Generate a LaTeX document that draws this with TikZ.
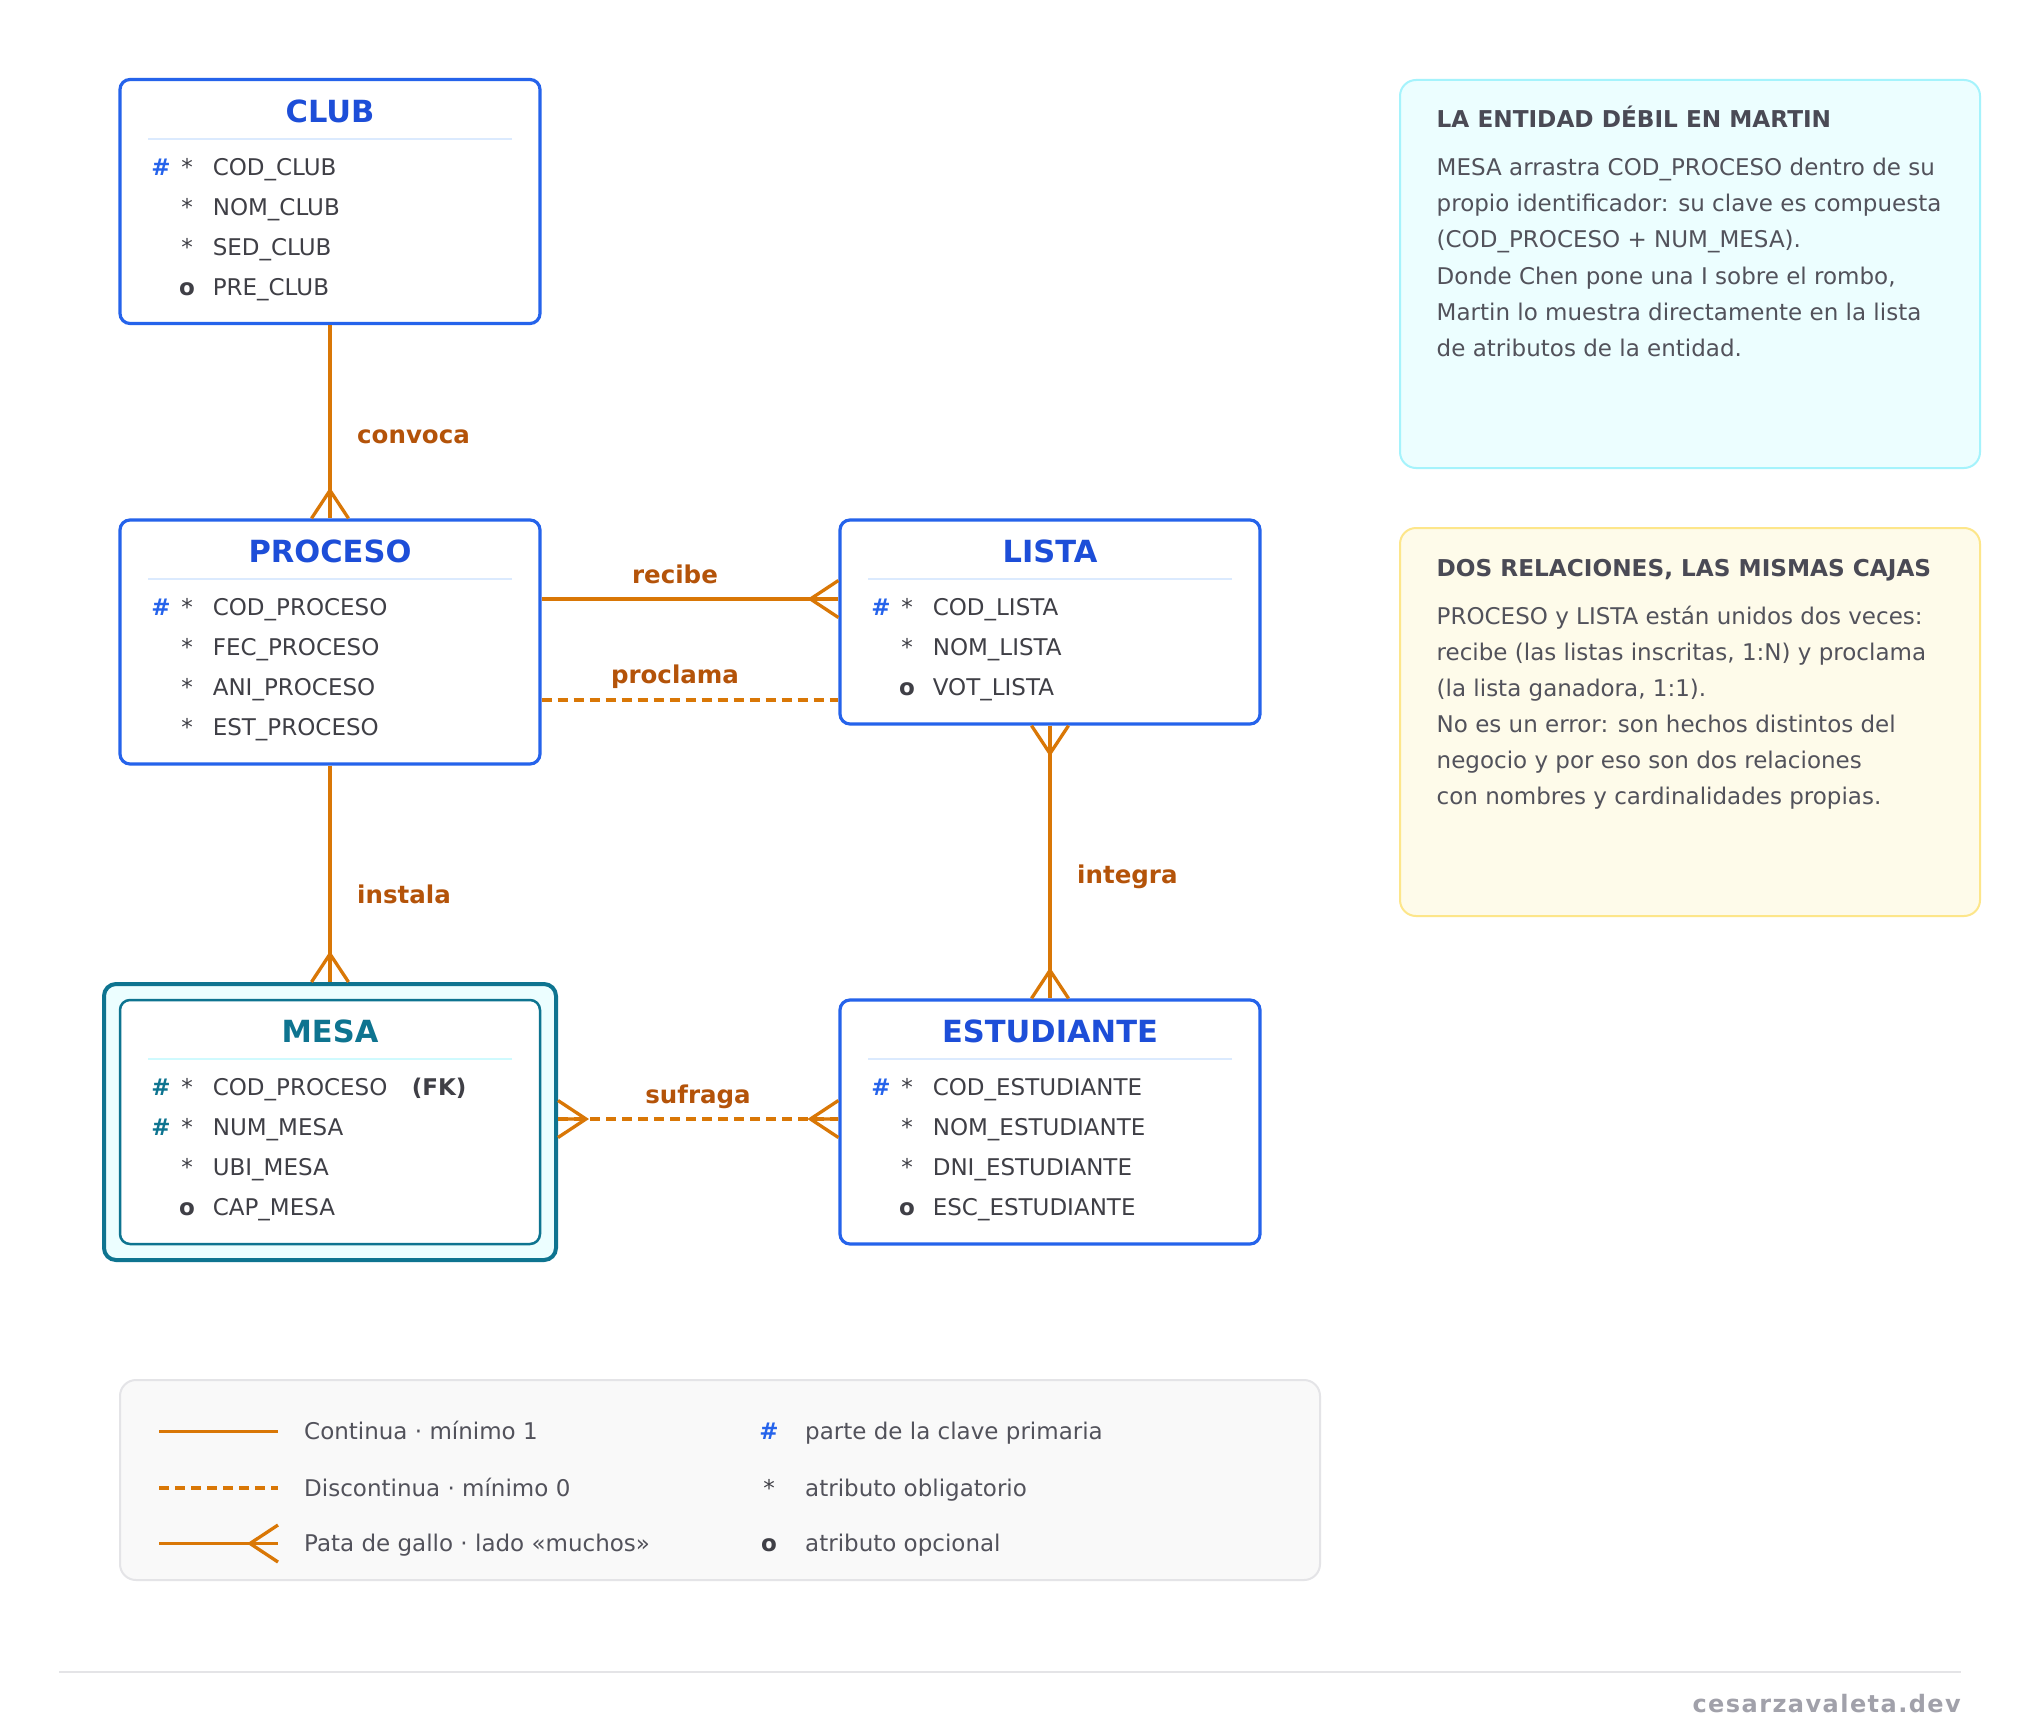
\documentclass[tikz,border=0pt]{standalone}
\usepackage{fontspec}
\setmainfont{DejaVu Sans}
\newfontfamily\piefont[LetterSpace=6]{DejaVu Sans}
\usetikzlibrary{positioning}

\definecolor{azul}{HTML}{2563EB}
\definecolor{azultit}{HTML}{1D4ED8}
\definecolor{azulsep}{HTML}{DBEAFE}
\definecolor{petroleo}{HTML}{0E7490}
\definecolor{petrofondo}{HTML}{ECFEFF}
\definecolor{petrosep}{HTML}{CFFAFE}
\definecolor{naranja}{HTML}{D97706}
\definecolor{naranjaosc}{HTML}{B45309}
\definecolor{gristxt}{HTML}{3F3F46}
\definecolor{grisnota}{HTML}{52525B}
\definecolor{gristit}{HTML}{4A4A55}
\definecolor{cianfondo}{HTML}{ECFEFF}
\definecolor{cianborde}{HTML}{A5F3FC}
\definecolor{amafondo}{HTML}{FEFBEA}
\definecolor{amaborde}{HTML}{FDE68A}
\definecolor{leyfondo}{HTML}{F9F9F9}
\definecolor{leyborde}{HTML}{E4E4E7}
\definecolor{pietxt}{HTML}{A1A1AA}

\newcommand{\fatr}{\fontsize{23}{27}\selectfont}
\newcommand{\ftit}{\fontsize{30.5}{36}\selectfont\bfseries}
\newcommand{\fnota}{\fontsize{23}{27}\selectfont}
\newcommand{\fet}{\fontsize{24.5}{28}\selectfont\bfseries}

\tikzset{
  entidad/.style={draw=azul, line width=3.2pt, rounded corners=10pt, fill=white,
    minimum width=420pt, minimum height=244pt, inner sep=0pt},
  titulo/.style={font=\ftit, text=azultit, inner sep=0pt, text height=22.3pt, text depth=0pt},
  sep/.style={draw=azulsep, line width=2.5pt},
  attr/.style={font=\fatr, text=gristxt, inner sep=0pt, text height=16.8pt, text depth=0pt},
  clave/.style={attr, font=\fatr\bfseries, text=azul},
  rel/.style={draw=naranja, line width=3.3pt},
  opc/.style={rel, dash pattern=on 10pt off 6pt},
  etiq/.style={font=\fet, text=naranjaosc, inner sep=0pt},
  nota/.style={line width=2pt, rounded corners=16pt, minimum width=580pt,
    minimum height=388pt, inner sep=0pt},
  notatit/.style={font=\fontsize{23.2}{27}\selectfont\bfseries, text=gristit, inner sep=0pt},
  notatxt/.style={font=\fnota, text=grisnota, inner sep=0pt}
}

\begin{document}
\begin{tikzpicture}[x=1pt,y=-1pt]
  \fill[white] (0,0) rectangle (2020,1728);
  \useasboundingbox (0,0) rectangle (2020,1728);

  % entidades
  \node[entidad] (club) at (330,201.5) {};
  \node[titulo] (club-t) at (330,111) {CLUB};
  \draw[sep] (148,139) -- (512,139);
  \foreach \k/\m/\n [count=\i from 0] in {\#/*/COD\_CLUB, /*/NOM\_CLUB, /*/SED\_CLUB, /\textbf{o}/PRE\_CLUB}{
    \node[clave] (club-k\i) at (161,167.5+40*\i) {\k};
    \node[attr] (club-m\i) at (187,167.5+40*\i) {\m};
    \node[attr, anchor=west] (club-a\i) at (212.6,167.5+40*\i) {\n};
  }

  \node[entidad] (proceso) at (330,642) {};
  \node[titulo] (proceso-t) at (330,551) {PROCESO};
  \draw[sep] (148,579) -- (512,579);
  \foreach \k/\m/\n [count=\i from 0] in {\#/*/COD\_PROCESO, /*/FEC\_PROCESO, /*/ANI\_PROCESO, /*/EST\_PROCESO}{
    \node[clave] (proceso-k\i) at (161,607.5+40*\i) {\k};
    \node[attr] (proceso-m\i) at (187,607.5+40*\i) {\m};
    \node[attr, anchor=west] (proceso-a\i) at (212.6,607.5+40*\i) {\n};
  }

  \node[entidad, minimum height=204pt] (lista) at (1050,622) {};
  \node[titulo] (lista-t) at (1050,551) {LISTA};
  \draw[sep] (868,579) -- (1232,579);
  \foreach \k/\m/\n [count=\i from 0] in {\#/*/COD\_LISTA, /*/NOM\_LISTA, /\textbf{o}/VOT\_LISTA}{
    \node[clave] (lista-k\i) at (881,607.5+40*\i) {\k};
    \node[attr] (lista-m\i) at (907,607.5+40*\i) {\m};
    \node[attr, anchor=west] (lista-a\i) at (932.6,607.5+40*\i) {\n};
  }

  % entidad debil: doble caja
  \node[entidad, draw=petroleo, line width=4pt, fill=petrofondo, rounded corners=12pt,
    minimum width=452pt, minimum height=276pt] (mesa) at (330,1122) {};
  \node[entidad, draw=petroleo, line width=2.5pt] (mesa-in) at (330,1122) {};
  \node[titulo, text=petroleo] (mesa-t) at (330,1031) {MESA};
  \draw[sep, draw=petrosep] (148,1059) -- (512,1059);
  \foreach \k/\m/\n [count=\i from 0] in {\#/*/COD\_PROCESO\hspace{24.5pt}\textbf{(FK)}, \#/*/NUM\_MESA, /*/UBI\_MESA, /\textbf{o}/CAP\_MESA}{
    \node[clave, text=petroleo] (mesa-k\i) at (161,1087.5+40*\i) {\k};
    \node[attr] (mesa-m\i) at (187,1087.5+40*\i) {\m};
    \node[attr, anchor=west] (mesa-a\i) at (212.6,1087.5+40*\i) {\n};
  }

  \node[entidad] (estudiante) at (1050,1122) {};
  \node[titulo] (estudiante-t) at (1050,1031) {ESTUDIANTE};
  \draw[sep] (868,1059) -- (1232,1059);
  \foreach \k/\m/\n [count=\i from 0] in {\#/*/COD\_ESTUDIANTE, /*/NOM\_ESTUDIANTE, /*/DNI\_ESTUDIANTE, /\textbf{o}/ESC\_ESTUDIANTE}{
    \node[clave] (estudiante-k\i) at (881,1087.5+40*\i) {\k};
    \node[attr] (estudiante-m\i) at (907,1087.5+40*\i) {\m};
    \node[attr, anchor=west] (estudiante-a\i) at (932.6,1087.5+40*\i) {\n};
  }

  % relaciones
  \draw[rel] (club.south) -- (proceso.north);
  \draw[rel] (proceso.north) ++(-18.5,0) -- ++(18.5,-28) -- ++(18.5,28);
  \node[etiq, anchor=base west] (et-convoca) at (357,443) {convoca};

  \draw[rel] ([yshift=43pt]proceso.east) -- ([yshift=23pt]lista.west);
  \draw[rel] ([yshift=23pt]lista.west) ++(0,-18.5) -- ++(-28,18.5) -- ++(28,18.5);
  \node[etiq, anchor=base] (et-recibe) at (675,583) {recibe};

  \draw[opc] ([yshift=-58pt]proceso.east) -- ([yshift=-78pt]lista.west);
  \node[etiq, anchor=base] (et-proclama) at (675,683) {proclama};

  \draw[rel] (proceso.south) -- (mesa.north);
  \draw[rel] (mesa.north) ++(-18.5,0) -- ++(18.5,-28) -- ++(18.5,28);
  \node[etiq, anchor=base west] (et-instala) at (357,903) {instala};

  \draw[rel] (lista.south) -- (estudiante.north);
  \draw[rel] (lista.south) ++(-18.5,0) -- ++(18.5,28) -- ++(18.5,-28);
  \draw[rel] (estudiante.north) ++(-18.5,0) -- ++(18.5,-28) -- ++(18.5,28);
  \node[etiq, anchor=base west] (et-integra) at (1077,883) {integra};

  \draw[opc] ([yshift=3pt]mesa.east) -- ([yshift=3pt]estudiante.west);
  \draw[rel] ([yshift=3pt]mesa.east) ++(0,-18.5) -- ++(28,18.5) -- ++(-28,18.5) ++(28,-18.5) -- ++(-28,0);
  \draw[rel] ([yshift=3pt]estudiante.west) ++(0,-18.5) -- ++(-28,18.5) -- ++(28,18.5) ++(-28,-18.5) -- ++(28,0);
  \node[etiq, anchor=base] (et-sufraga) at (698,1103) {sufraga};

  % notas
  \node[nota, draw=cianborde, fill=cianfondo] (nota-debil) at (1690,274) {};
  \node[notatit, anchor=base west] (nota-debil-t) at (1436.5,128) {LA ENTIDAD DÉBIL EN MARTIN};
  \foreach \l [count=\i from 0] in {MESA arrastra COD\_PROCESO dentro de su,
      propio identificador: su clave es compuesta, (COD\_PROCESO + NUM\_MESA).,
      {Donde Chen pone una I sobre el rombo,}, Martin lo muestra directamente en la lista,
      de atributos de la entidad.}
    \node[notatxt, anchor=base west] (nota-debil-\i) at (1436.5,175.7+36.1*\i) {\l};

  \node[nota, draw=amaborde, fill=amafondo] (nota-dos) at (1690,722) {};
  \node[notatit, anchor=base west] (nota-dos-t) at (1436.5,576.3) {DOS RELACIONES, LAS MISMAS CAJAS};
  \foreach \l [count=\i from 0] in {PROCESO y LISTA están unidos dos veces:,
      {recibe (las listas inscritas, 1:N) y proclama}, {(la lista ganadora, 1:1).},
      No es un error: son hechos distintos del, negocio y por eso son dos relaciones,
      con nombres y cardinalidades propias.}
    \node[notatxt, anchor=base west] (nota-dos-\i) at (1436.5,624+36*\i) {\l};

  % leyenda
  \node[nota, draw=leyborde, fill=leyfondo, minimum width=1200pt, minimum height=200pt] (leyenda) at (720,1480) {};
  \coordinate (l1a) at (159,1431.5); \coordinate (l1b) at (278,1431.5);
  \coordinate (l2a) at (159,1488);   \coordinate (l2b) at (278,1488);
  \coordinate (l3a) at (159,1543.5); \coordinate (l3b) at (278,1543.5);
  \draw[rel] (l1a) -- (l1b);
  \draw[opc] (l2a) -- (l2b);
  \draw[rel] (l3a) -- (l3b);
  \draw[rel] (l3b) ++(0,-18.5) -- ++(-28,18.5) -- ++(28,18.5);
  \node[attr, text=grisnota, anchor=west] (ley-1) at (304,1431.5) {Continua · mínimo 1};
  \node[attr, text=grisnota, anchor=west] (ley-2) at (304,1488) {Discontinua · mínimo 0};
  \node[attr, text=grisnota, anchor=west] (ley-3) at (304,1543.5) {Pata de gallo · lado «muchos»};
  \node[clave] (ley-k) at (769,1431.5) {\#};
  \node[attr] (ley-m) at (769,1488) {*};
  \node[attr] (ley-o) at (769,1543.5) {\textbf{o}};
  \node[attr, text=grisnota, anchor=west] (ley-4) at (805,1431.5) {parte de la clave primaria};
  \node[attr, text=grisnota, anchor=west] (ley-5) at (805,1488) {atributo obligatorio};
  \node[attr, text=grisnota, anchor=west] (ley-6) at (805,1543.5) {atributo opcional};

  % pie
  \draw[leyborde, line width=2pt] (59,1672) -- (1961,1672);
  \node[anchor=base east, inner sep=0pt, text=pietxt, font=\fontsize{24}{28}\piefont\bfseries] (pie) at (1961,1712) {cesarzavaleta.dev};
\end{tikzpicture}
\end{document}
